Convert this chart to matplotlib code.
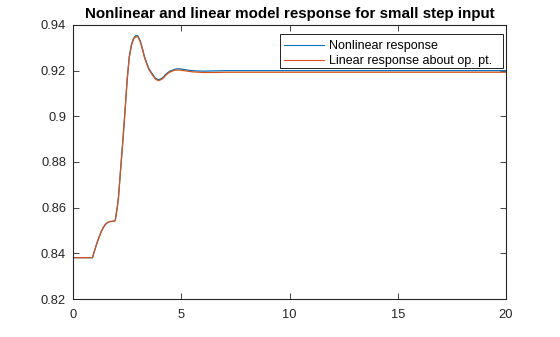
import matplotlib.pyplot as plt
from matplotlib.patches import Rectangle
from matplotlib.ticker import FuncFormatter

plt.rcParams['font.family'] = ['Liberation Sans', 'DejaVu Sans']

# Data
t_nl = [0, 0.9, 1.0, 1.1, 1.2, 1.3, 1.4, 1.5, 1.6, 1.7, 1.8, 1.9, 1.95, 2.0, 2.05, 2.1,
        2.2, 2.3, 2.4, 2.5, 2.6, 2.7, 2.8, 2.9, 3.0, 3.1, 3.2, 3.3, 3.4, 3.5, 3.6,
        3.7, 3.8, 3.9, 3.95, 4.0, 4.1, 4.2, 4.25, 4.3, 4.4, 4.5, 4.63, 4.7, 4.8, 4.9,
        5.0, 5.2, 5.4, 5.7, 6.0, 6.5, 7.0, 8.0, 20.0]
y_nl = [0.8381, 0.8381, 0.8413, 0.8443, 0.8470, 0.8494, 0.8513, 0.8527, 0.8535, 0.8539,
        0.8540, 0.8541, 0.8545, 0.8575, 0.8605, 0.8645,
        0.8770, 0.8890, 0.9020, 0.9160, 0.9262, 0.9315, 0.9342, 0.9354, 0.9352, 0.9332,
        0.9300, 0.9262, 0.9235, 0.9210, 0.9195,
        0.9181, 0.9168, 0.9162, 0.9161, 0.9162, 0.9166, 0.9174, 0.9181, 0.9185, 0.9193,
        0.9199, 0.9203, 0.9206, 0.9208, 0.9208,
        0.9207, 0.9204, 0.9201, 0.9199, 0.9198, 0.9199, 0.9200, 0.9200, 0.9200]

t_lin = [0, 0.9, 1.0, 1.1, 1.2, 1.3, 1.4, 1.5, 1.6, 1.7, 1.8, 1.9, 1.95, 2.0, 2.05, 2.1,
         2.2, 2.3, 2.4, 2.5, 2.6, 2.7, 2.8, 2.9, 3.0, 3.1, 3.2, 3.3, 3.4, 3.5, 3.6,
         3.7, 3.8, 3.9, 3.95, 4.0, 4.1, 4.2, 4.25, 4.3, 4.4, 4.5, 4.7, 4.9,
         5.2, 5.5, 6.0, 6.5, 7.0, 20.0]
y_lin = [0.8381, 0.8381, 0.8413, 0.8443, 0.8470, 0.8494, 0.8513, 0.8527, 0.8535, 0.8539,
         0.8540, 0.8540, 0.8544, 0.8574, 0.8604, 0.8644,
         0.8768, 0.8888, 0.9018, 0.9157, 0.9258, 0.9311, 0.9338, 0.9349, 0.9348, 0.9328,
         0.9296, 0.9258, 0.9231, 0.9206, 0.9191,
         0.9177, 0.9164, 0.9158, 0.9157, 0.9158, 0.9162, 0.9170, 0.9177, 0.9181, 0.9189,
         0.9195, 0.9202, 0.9203,
         0.9199, 0.9195, 0.9192, 0.9192, 0.9193, 0.9193]

labels = ['Nonlinear response', 'Linear response about op. pt.']
title = 'Nonlinear and linear model response for small step input'

fig = plt.figure(figsize=(5.6, 3.37), dpi=100)
ax = fig.add_axes([73/560, 1 - 299/337, 433/560, 274/337])

ax.plot(t_nl, y_nl, color=(0, 0.447, 0.741), lw=0.9, label=labels[0])
ax.plot(t_lin, y_lin, color=(0.85, 0.325, 0.098), lw=0.9, label=labels[1])

ax.set_xlim(0, 20)
ax.set_ylim(0.82, 0.94)
ax.set_xticks([0, 5, 10, 15, 20])
ax.set_yticks([0.82, 0.84, 0.86, 0.88, 0.9, 0.92, 0.94])
ax.yaxis.set_major_formatter(FuncFormatter(lambda v, p: '{:g}'.format(round(v, 4))))

axcol = (0.15, 0.15, 0.15)
ax.tick_params(direction='in', length=4, width=0.6, top=True, right=True,
               labelsize=9.3, colors=axcol)
ax.tick_params(axis='x', pad=7)
ax.tick_params(axis='y', pad=5)
for s in ax.spines.values():
    s.set_linewidth(0.8)
    s.set_color(axcol)

ax.set_title(title, fontsize=10.9, fontweight='bold', pad=5)

# legend without its own frame, MATLAB-like box drawn behind it
leg = ax.legend(loc='upper left', bbox_to_anchor=(0.4873, 0.9453), borderaxespad=0,
                fontsize=9, frameon=False, handlelength=3.2, handletextpad=0.4,
                borderpad=0, labelspacing=0.25)
for h in leg.legend_handles:
    h.set_linewidth(0.8)
ax.add_patch(Rectangle((0.478, 0.843), 0.515, 0.124, transform=ax.transAxes,
                       facecolor='white', edgecolor='black', lw=0.6, zorder=4))
leg.set_zorder(5)

fig.savefig('out.png', dpi=100)
